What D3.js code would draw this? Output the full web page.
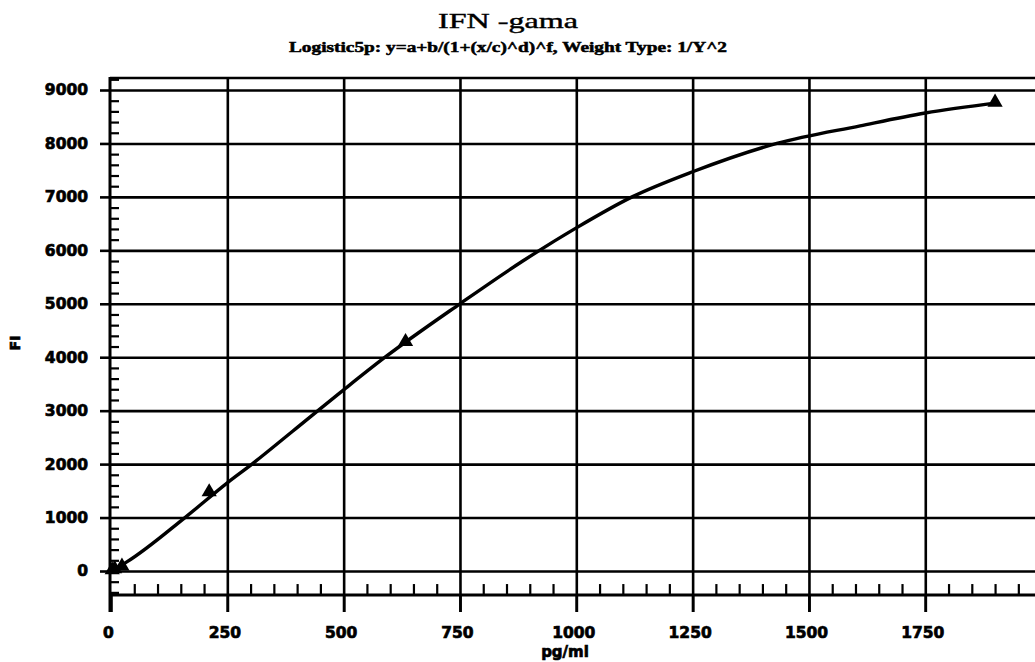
<!DOCTYPE html>
<html>
<head>
<meta charset="utf-8">
<script src="https://cdn.jsdelivr.net/npm/d3@7"></script>
<style>
  html, body { margin: 0; padding: 0; background: #fff; }
  svg { display: block; }
</style>
</head>
<body>
<div id="chart"></div>
<script>
// ---- data ----
const titleText = "IFN -gama";
const subtitleText = "Logistic5p: y=a+b/(1+(x/c)^d)^f, Weight Type: 1/Y^2";
const xLabel = "pg/ml";
const yLabel = "FI";
const xTicks = [0, 250, 500, 750, 1000, 1250, 1500, 1750];
const yTicks = [0, 1000, 2000, 3000, 4000, 5000, 6000, 7000, 8000, 9000];
// standards (triangles)
const stdConc = [2.6, 7.8, 23.5, 211, 633, 1900];
const stdFI = [20, 40, 90, 1480, 4290, 8770];
// fitted curve
const curveConc = [2.6, 34, 159, 250, 303, 391, 500, 589, 750, 885, 1000, 1120, 1250, 1431, 1610, 1750, 1904];
const curveFI = [10, 170, 1000, 1650, 2000, 2620, 3390, 4000, 5000, 5800, 6420, 7000, 7470, 8000, 8330, 8570, 8760];

// ---- layout ----
const W = 1035, H = 662;
const svg = d3.select("#chart").append("svg").attr("width", W).attr("height", H);

const x = d3.scaleLinear().domain([0, 2000]).range([111, 1041.6]);
const y = d3.scaleLinear().domain([0, 9000]).range([571, 90]);
const left = 110;
const frameTop = y(9225);
const axisY = y(-450);
const tickBottom = 612;

const black = "#000";
const tickFont = "'DejaVu Sans', sans-serif";

function styleAxis(g, w) {
  g.select(".domain").remove();
  g.selectAll(".tick line").attr("stroke", black).attr("stroke-width", w);
}
function boldText(sel, size) {
  return sel.attr("font-family", tickFont).attr("font-weight", "bold").attr("font-size", size)
    .attr("fill", black).attr("stroke", black).attr("stroke-width", 0.7);
}

// horizontal gridlines
svg.append("g").attr("transform", `translate(${left},0)`)
  .call(d3.axisRight(y).tickValues(yTicks).tickSize(W - left).tickFormat(""))
  .call(g => styleAxis(g, 2.6));

// vertical gridlines (through major x ticks)
svg.append("g").attr("transform", `translate(0,${tickBottom})`)
  .call(d3.axisTop(x).tickValues(xTicks.filter(v => v > 0)).tickSize(tickBottom - frameTop).tickFormat(""))
  .call(g => styleAxis(g, 2.6));

// y major ticks + labels
svg.append("g").attr("transform", `translate(${left},0)`)
  .call(d3.axisLeft(y).tickValues(yTicks).tickSize(10).tickPadding(12).tickFormat(d3.format("d")))
  .call(g => styleAxis(g, 2.6))
  .call(g => boldText(g.selectAll("text"), 15.5));

// y minor ticks
const yMinor = d3.range(-400, 9201, 200).filter(v => v % 1000 !== 0);
svg.append("g").attr("transform", `translate(${left},0)`)
  .call(d3.axisRight(y).tickValues(yMinor).tickSize(9).tickFormat(""))
  .call(g => styleAxis(g, 2.2));

// x major ticks + labels
svg.append("g").attr("transform", `translate(0,${axisY})`)
  .call(d3.axisBottom(x).tickValues(xTicks).tickSize(tickBottom - axisY).tickPadding(15).tickFormat(d3.format("d")))
  .call(g => styleAxis(g, 2.6))
  .call(g => boldText(g.selectAll("text"), 15.5))
  .call(g => g.selectAll("text").attr("dx", -3));

// x minor ticks
const xMinor = d3.range(50, 2000, 50).filter(v => v % 250 !== 0);
svg.append("g").attr("transform", `translate(0,${axisY})`)
  .call(d3.axisTop(x).tickValues(xMinor).tickSize(11).tickFormat(""))
  .call(g => styleAxis(g, 2.2));

// axis lines / frame
svg.append("line").attr("x1", left).attr("x2", left).attr("y1", frameTop - 1).attr("y2", tickBottom)
  .attr("stroke", black).attr("stroke-width", 3);
svg.append("line").attr("x1", left).attr("x2", W).attr("y1", axisY).attr("y2", axisY)
  .attr("stroke", black).attr("stroke-width", 3);
svg.append("line").attr("x1", left).attr("x2", W).attr("y1", frameTop).attr("y2", frameTop)
  .attr("stroke", black).attr("stroke-width", 2.6);

// fitted curve
const pts = curveConc.map((c, i) => [c, curveFI[i]]);
svg.append("path").datum(pts)
  .attr("fill", "none").attr("stroke", black).attr("stroke-width", 3.4)
  .attr("d", d3.line().x(d => x(d[0])).y(d => y(d[1])).curve(d3.curveMonotoneX));

// standard points
const stds = stdConc.map((c, i) => [c, stdFI[i]]);
svg.append("g").selectAll("path").data(stds).join("path")
  .attr("transform", d => `translate(${x(d[0])},${y(d[1])})`)
  .attr("d", d3.symbol(d3.symbolTriangle, 100))
  .attr("fill", black);

// titles
svg.append("text").attr("x", 508).attr("y", 28).attr("text-anchor", "middle")
  .attr("font-family", "'Liberation Serif', serif").attr("font-size", 21)
  .attr("textLength", 140).attr("lengthAdjust", "spacingAndGlyphs")
  .attr("fill", black).attr("stroke", black).attr("stroke-width", 0.4).text(titleText);
svg.append("text").attr("x", 508).attr("y", 52).attr("text-anchor", "middle")
  .attr("font-family", "'Liberation Serif', serif").attr("font-weight", "bold").attr("font-size", 14)
  .attr("textLength", 438).attr("lengthAdjust", "spacingAndGlyphs")
  .attr("fill", black).attr("stroke", black).attr("stroke-width", 0.5).text(subtitleText);

// axis titles
boldText(svg.append("text").attr("x", 565).attr("y", 657).attr("text-anchor", "middle"), 15).text(xLabel);
boldText(svg.append("text").attr("transform", "translate(20,343) rotate(-90)").attr("text-anchor", "middle"), 14).text(yLabel);
</script>
</body>
</html>
